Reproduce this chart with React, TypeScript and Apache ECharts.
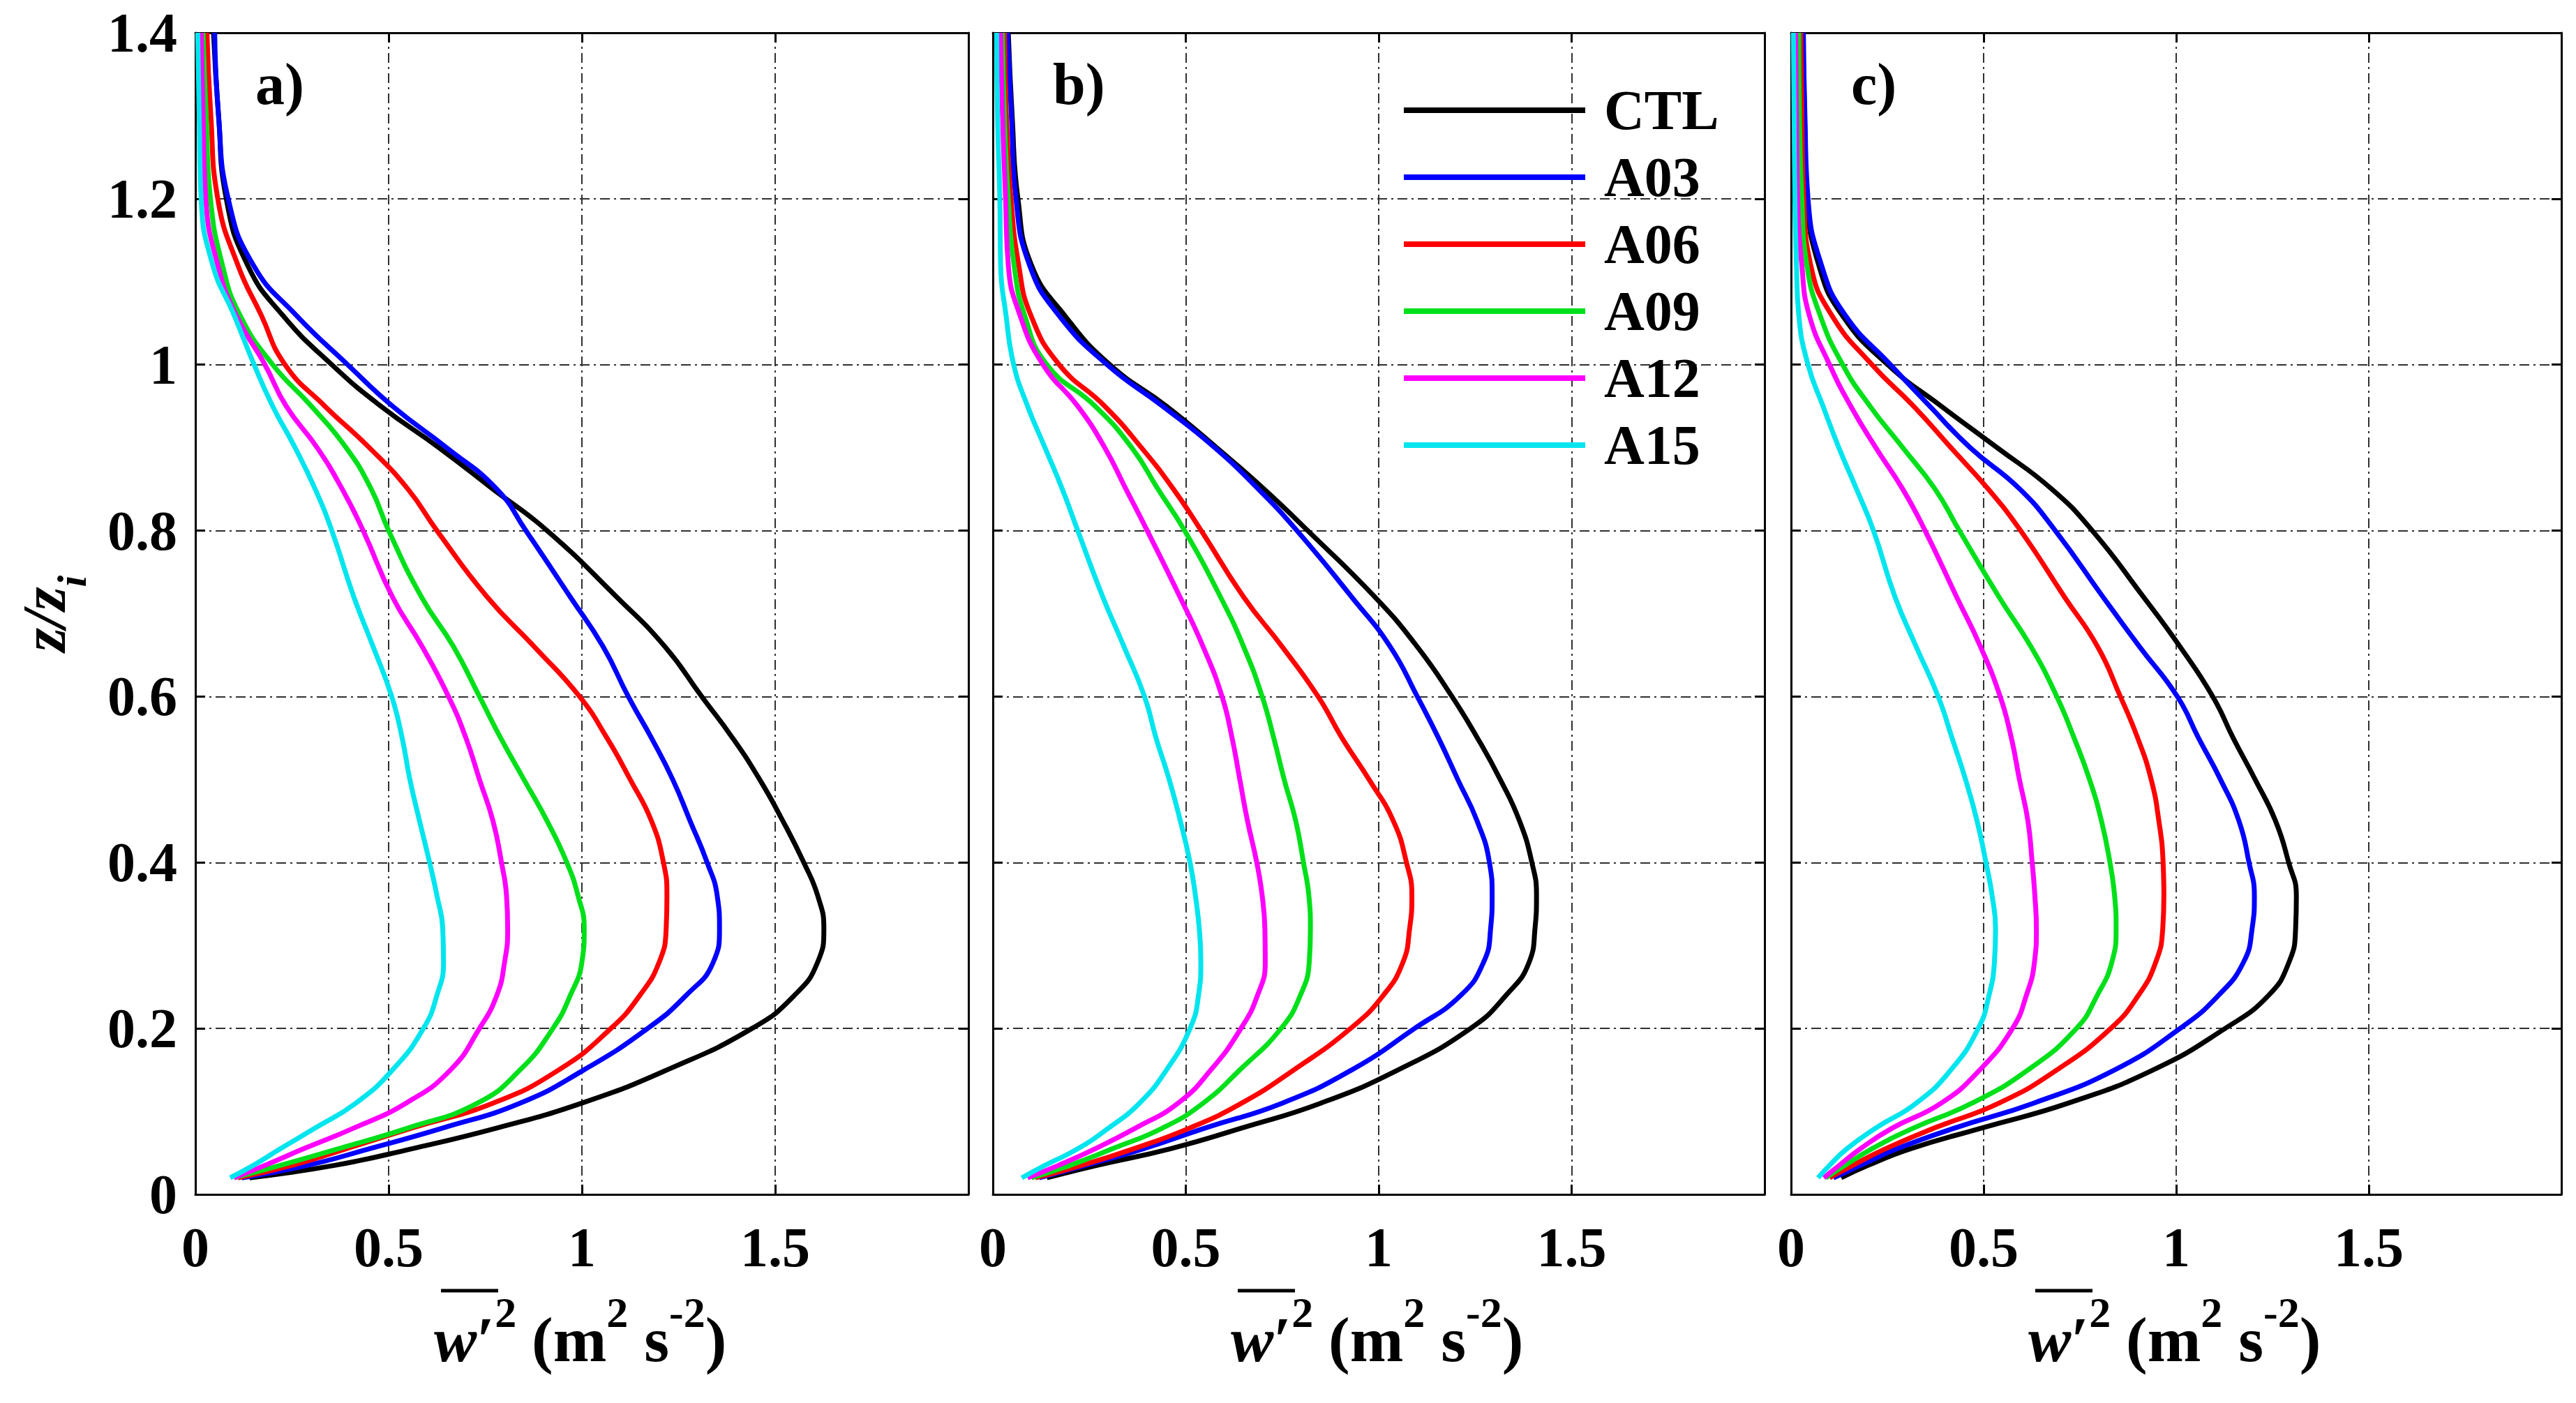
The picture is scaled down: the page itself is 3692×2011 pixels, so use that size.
import { useEffect, useRef } from 'react';
import * as echarts from 'echarts';

// z/zi levels shared by every profile, bottom to top
const zLevels = [0.02, 0.035, 0.055, 0.08, 0.11, 0.15, 0.2, 0.24, 0.28, 0.32, 0.36, 0.4, 0.45, 0.5, 0.55, 0.6, 0.66, 0.72, 0.8, 0.85, 0.9, 0.95, 1.0, 1.06, 1.12, 1.2, 1.3, 1.4];

const runNames = ['CTL', 'A03', 'A06', 'A09', 'A12', 'A15'];
const runColors = ['#000000', '#0000ff', '#ff0000', '#00e01a', '#ff00ff', '#00e5ee'];
const panelTags = ['a)', 'b)', 'c)'];

// w'^2 (m2 s-2) at each z level, one row per run (CTL, A03 ... A15)
const panelA = [
  [0.14, 0.36, 0.56, 0.78, 1.0, 1.22, 1.44, 1.55, 1.61, 1.626, 1.61, 1.574, 1.52, 1.46, 1.39, 1.31, 1.215, 1.09, 0.91, 0.77, 0.63, 0.48, 0.353, 0.225, 0.135, 0.08, 0.06, 0.047],
  [0.12, 0.29, 0.45, 0.64, 0.84, 1.005, 1.17, 1.27, 1.34, 1.356, 1.35, 1.324, 1.28, 1.235, 1.18, 1.12, 1.055, 0.97, 0.855, 0.78, 0.65, 0.51, 0.394, 0.26, 0.15, 0.085, 0.06, 0.05],
  [0.11, 0.25, 0.39, 0.56, 0.77, 0.94, 1.075, 1.15, 1.2, 1.218, 1.22, 1.211, 1.18, 1.125, 1.065, 0.994, 0.877, 0.755, 0.625, 0.55, 0.45, 0.335, 0.232, 0.17, 0.11, 0.058, 0.04, 0.03],
  [0.1, 0.22, 0.37, 0.55, 0.73, 0.84, 0.925, 0.97, 1.0, 1.006, 0.99, 0.961, 0.91, 0.85, 0.79, 0.735, 0.668, 0.585, 0.5, 0.455, 0.39, 0.3, 0.2, 0.115, 0.07, 0.039, 0.028, 0.02],
  [0.1, 0.18, 0.28, 0.41, 0.545, 0.66, 0.735, 0.78, 0.8, 0.808, 0.805, 0.792, 0.77, 0.735, 0.7, 0.655, 0.587, 0.51, 0.434, 0.38, 0.315, 0.235, 0.18, 0.105, 0.058, 0.027, 0.02, 0.015],
  [0.09, 0.15, 0.22, 0.31, 0.415, 0.51, 0.59, 0.625, 0.642, 0.64, 0.625, 0.606, 0.58, 0.555, 0.535, 0.508, 0.46, 0.41, 0.353, 0.31, 0.258, 0.2, 0.152, 0.1, 0.045, 0.015, 0.01, 0.006],
];

const panelB = [
  [0.14, 0.27, 0.46, 0.645, 0.85, 1.05, 1.238, 1.33, 1.39, 1.405, 1.409, 1.397, 1.365, 1.315, 1.256, 1.19, 1.1, 0.99, 0.816, 0.703, 0.58, 0.45, 0.303, 0.185, 0.1, 0.065, 0.05, 0.04],
  [0.12, 0.24, 0.39, 0.55, 0.75, 0.93, 1.093, 1.213, 1.272, 1.29, 1.294, 1.287, 1.255, 1.205, 1.155, 1.1, 1.03, 0.93, 0.788, 0.688, 0.575, 0.44, 0.296, 0.17, 0.095, 0.06, 0.048, 0.038],
  [0.11, 0.23, 0.365, 0.51, 0.645, 0.78, 0.927, 1.012, 1.063, 1.08, 1.086, 1.072, 1.038, 0.975, 0.905, 0.843, 0.75, 0.65, 0.54, 0.468, 0.385, 0.29, 0.172, 0.098, 0.067, 0.047, 0.035, 0.03],
  [0.1, 0.2, 0.31, 0.44, 0.545, 0.64, 0.747, 0.797, 0.82, 0.823, 0.819, 0.805, 0.785, 0.755, 0.728, 0.698, 0.65, 0.59, 0.497, 0.428, 0.36, 0.265, 0.14, 0.082, 0.055, 0.04, 0.03, 0.025],
  [0.09, 0.17, 0.265, 0.37, 0.48, 0.565, 0.643, 0.686, 0.706, 0.705, 0.698, 0.684, 0.66, 0.64, 0.62, 0.594, 0.545, 0.485, 0.4, 0.345, 0.29, 0.22, 0.13, 0.07, 0.04, 0.033, 0.025, 0.02],
  [0.075, 0.135, 0.22, 0.3, 0.38, 0.45, 0.511, 0.533, 0.539, 0.535, 0.525, 0.511, 0.486, 0.457, 0.423, 0.393, 0.34, 0.285, 0.22, 0.18, 0.135, 0.09, 0.054, 0.034, 0.02, 0.018, 0.012, 0.01],
];

const panelC = [
  [0.13, 0.2, 0.31, 0.495, 0.72, 0.94, 1.127, 1.24, 1.293, 1.31, 1.312, 1.292, 1.258, 1.205, 1.148, 1.095, 1.01, 0.915, 0.782, 0.677, 0.535, 0.39, 0.251, 0.132, 0.072, 0.042, 0.035, 0.03],
  [0.11, 0.18, 0.275, 0.425, 0.63, 0.84, 1.01, 1.11, 1.175, 1.197, 1.203, 1.189, 1.163, 1.115, 1.058, 1.003, 0.905, 0.81, 0.686, 0.594, 0.465, 0.36, 0.258, 0.14, 0.079, 0.044, 0.036, 0.032],
  [0.1, 0.16, 0.245, 0.372, 0.54, 0.69, 0.83, 0.902, 0.947, 0.965, 0.968, 0.966, 0.955, 0.935, 0.9, 0.855, 0.796, 0.71, 0.596, 0.512, 0.415, 0.318, 0.21, 0.105, 0.051, 0.033, 0.028, 0.025],
  [0.09, 0.14, 0.21, 0.318, 0.47, 0.615, 0.741, 0.795, 0.833, 0.844, 0.84, 0.828, 0.806, 0.775, 0.735, 0.69, 0.623, 0.54, 0.437, 0.374, 0.29, 0.205, 0.134, 0.075, 0.041, 0.028, 0.022, 0.02],
  [0.085, 0.125, 0.18, 0.263, 0.39, 0.49, 0.575, 0.611, 0.632, 0.637, 0.633, 0.626, 0.615, 0.593, 0.572, 0.543, 0.492, 0.43, 0.348, 0.29, 0.22, 0.155, 0.1, 0.047, 0.028, 0.017, 0.014, 0.012],
  [0.07, 0.1, 0.145, 0.22, 0.325, 0.415, 0.486, 0.514, 0.528, 0.531, 0.522, 0.506, 0.483, 0.453, 0.418, 0.382, 0.325, 0.27, 0.214, 0.17, 0.124, 0.083, 0.044, 0.02, 0.014, 0.01, 0.008, 0.006],
];

const FONT = 'Liberation Serif';
const gridTop = 47;
const gridHeight = 1665;
const panelLefts = [280, 1423, 2567];
const panelWidths = [1108, 1106, 1104];
const gridDash = [14, 6, 3, 6];

export default function App() {
  const chartRef = useRef<HTMLDivElement>(null);

  useEffect(() => {
    if (!chartRef.current) return;
    const chart = echarts.init(chartRef.current, null, { renderer: 'svg' });
    const panels = [panelA, panelB, panelC];

    const axisLine = { show: true, onZero: false, lineStyle: { color: '#000', width: 3 } };
    const axisTick = { show: true, inside: true, length: 14, lineStyle: { color: '#000', width: 3 } };
    const splitLine = { show: true, lineStyle: { color: '#303030', width: 2, type: gridDash } };
    const tickFont = { color: '#000', fontFamily: FONT, fontWeight: 'bold' as const, fontSize: 80 };

    const grid = panelLefts.map((left, i) => ({ left, top: gridTop, width: panelWidths[i], height: gridHeight }));

    const xAxis = [
      ...panelLefts.map((_, i) => ({
        type: 'value', gridIndex: i, position: 'bottom', min: 0, max: 2, interval: 0.5,
        axisLine, axisTick, splitLine,
        axisLabel: { ...tickFont, margin: 36, formatter: (v: number) => (v === 2 ? '' : String(v)) },
      })),
      ...panelLefts.map((_, i) => ({
        type: 'value', gridIndex: i, position: 'top', min: 0, max: 2, interval: 0.5,
        axisLine, axisTick, axisLabel: { show: false }, splitLine: { show: false },
      })),
    ];

    const yAxis = [
      ...panelLefts.map((_, i) => ({
        type: 'value', gridIndex: i, position: 'left', min: 0, max: 1.4, interval: 0.2,
        axisLine, axisTick, splitLine,
        axisLabel: { ...tickFont, show: i === 0, margin: 26 },
        name: i === 0 ? '{z|z/z}{sub|i}' : '',
        nameLocation: 'middle',
        nameRotate: 90,
        nameGap: 147,
        nameTextStyle: {
          rich: {
            z: { fontFamily: FONT, fontWeight: 'bold', fontStyle: 'italic', fontSize: 88, lineHeight: 140, color: '#000' },
            sub: { fontFamily: FONT, fontWeight: 'bold', fontStyle: 'italic', fontSize: 60, lineHeight: 60, verticalAlign: 'bottom', color: '#000' },
          },
        },
      })),
      ...panelLefts.map((_, i) => ({
        type: 'value', gridIndex: i, position: 'right', min: 0, max: 1.4, interval: 0.2,
        axisLine, axisTick, axisLabel: { show: false }, splitLine: { show: false },
      })),
    ];

    const series = panels.flatMap((rows, p) =>
      rows.map((vals, r) => ({
        type: 'line',
        name: runNames[r],
        xAxisIndex: p,
        yAxisIndex: p,
        data: zLevels.map((z, k) => [vals[k], z]),
        symbol: 'none',
        smooth: 0.5,
        lineStyle: { color: runColors[r], width: 7 },
        itemStyle: { color: runColors[r] },
      })),
    );

    const mainTok = { fontFamily: FONT, fontWeight: 'bold', fontSize: 92, lineHeight: 140, fill: '#000', color: '#000' };
    const supTok = { fontFamily: FONT, fontWeight: 'bold', fontSize: 62, lineHeight: 64, verticalAlign: 'top', fill: '#000', color: '#000' };

    const graphic: any[] = [];
    panelLefts.forEach((left, i) => {
      const c = left + panelWidths[i] / 2;
      graphic.push({
        type: 'text', x: left + 86, y: 78,
        style: { text: panelTags[i], font: `bold 84px "${FONT}"`, fill: '#000', verticalAlign: 'top', textVerticalAlign: 'top' },
      });
      graphic.push({
        type: 'text', x: c - 212, y: 1850,
        style: {
          text: '{w|w}{p|\u2032}{s|2}',
          verticalAlign: 'top', textVerticalAlign: 'top', align: 'left', textAlign: 'left',
          rich: { w: { ...mainTok, fontStyle: 'italic' }, p: mainTok, s: supTok },
        },
      });
      graphic.push({
        type: 'text', x: c - 72, y: 1850,
        style: {
          text: '{t|(m}{s|2}{t| s}{s|-2}{t|)}',
          verticalAlign: 'top', textVerticalAlign: 'top', align: 'left', textAlign: 'left',
          rich: { t: mainTok, s: supTok },
        },
      });
      graphic.push({
        type: 'line',
        shape: { x1: c - 202, y1: 1850, x2: c - 120, y2: 1850 },
        style: { stroke: '#000', lineWidth: 5 },
      });
    });

    chart.setOption({
      animation: false,
      backgroundColor: '#fff',
      grid,
      xAxis,
      yAxis,
      legend: {
        data: runNames,
        orient: 'vertical',
        left: 2007,
        top: 113,
        icon: 'rect',
        itemWidth: 260,
        itemHeight: 8,
        itemGap: 16,
        selectedMode: false,
        textStyle: { fontFamily: FONT, fontWeight: 'bold', fontSize: 80, lineHeight: 80, color: '#000', padding: [0, 0, 0, 22] },
      },
      graphic,
      series,
    });

    return () => {
      chart.dispose();
    };
  }, []);

  return (
    <div
      ref={chartRef}
      style={{ position: 'fixed', left: 0, top: 0, width: 3692, height: 2011, background: '#fff' }}
    />
  );
}
